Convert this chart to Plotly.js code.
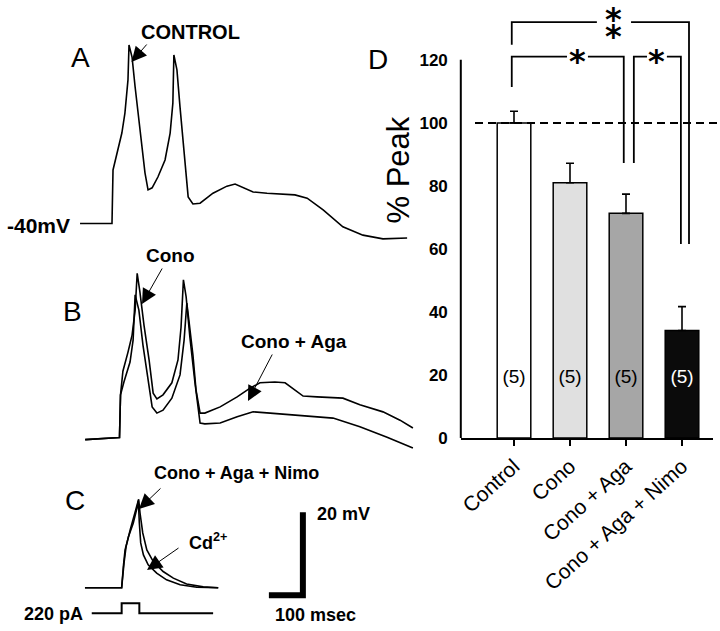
<!DOCTYPE html>
<html><head><meta charset="utf-8">
<script src="https://cdn.plot.ly/plotly-3.0.1.min.js"></script>
<style>html,body{margin:0;padding:0;background:#fff}#chart{width:720px;height:631px}</style>
</head><body><div id="chart"></div>
<script>
// ================= DATA =================
// Panel D: % of peak
const categories = ['Control', 'Cono', 'Cono + Aga', 'Cono + Aga + Nimo'];
const peakPct = [100, 81.0, 71.3, 34.1];
const peakSEM = [3.7, 6.2, 6.1, 7.6];
const nCells = ['(5)', '(5)', '(5)', '(5)'];
const yTicks = [0, 20, 40, 60, 80, 100, 120];
const comparisons = [[0, 3, '**'], [0, 2, '*'], [2, 3, '*']];

// Panel A: CONTROL (time ms from step onset, membrane potential mV)
const tA = [-94, 0, 3, 15, 29, 38, 47, 50, 59, 68, 82, 97, 106, 118, 135, 156, 171, 179, 182, 191, 200, 215, 224, 238, 259, 297, 338, 362, 385, 415, 456, 494, 538, 574, 621, 679, 738, 797, 868];
const vA = [-40, -40, -27.1, -23.0, -18.2, -13.4, -5.4, 3.0, 0.1, -7.1, -16.7, -27.8, -31.9, -31.4, -28.8, -24.7, -18.2, -11.0, 0.6, -3.0, -11.9, -25.4, -33.6, -35.3, -35.1, -32.7, -31.0, -30.5, -31.4, -32.4, -32.7, -32.9, -33.1, -33.9, -36.7, -40.8, -42.8, -43.7, -43.5];

// Panel B: Cono
const tBcono = [-101, 0, 3, 10, 25, 37, 46, 52, 60, 72, 87, 99, 110, 128, 154, 172, 181, 188, 196, 207, 222, 237, 251, 296, 346, 393, 443, 531, 628, 707, 787, 863];
const vBcono = [-40.4, -39.9, -29.6, -23.9, -19.3, -15.2, -9.2, -0.3, -4.8, -12.8, -21.2, -29.2, -30.6, -29.6, -26.7, -21.2, -13.3, -1.9, -6.0, -15.7, -26.7, -36.4, -36.6, -36.4, -34.9, -33.7, -34.0, -34.5, -35.2, -37.3, -39.8, -42.4];
// Panel B: Cono + Aga
const tBaga = [-101, 0, 3, 13, 31, 40, 46, 57, 69, 84, 96, 110, 128, 154, 178, 190, 198, 204, 216, 225, 237, 251, 296, 346, 384, 413, 457, 487, 510, 540, 581, 657, 707, 775, 825, 863];
const vBaga = [-40.4, -39.9, -29.6, -26.5, -21.7, -16.4, -5.5, -9.2, -17.6, -26.0, -32.5, -34.0, -33.3, -30.4, -24.8, -16.4, -7.5, -11.6, -20.0, -28.4, -34.0, -34.0, -32.5, -30.1, -28.0, -26.7, -26.5, -26.7, -28.0, -29.9, -30.1, -30.4, -32.0, -33.7, -35.7, -37.6];

// Panel C: Cono + Aga + Nimo, and Cd2+
const tCnimo = [-109, -1, 4, 9, 19, 33, 45, 48, 51, 55, 63, 77, 102, 131, 171, 220, 283];
const vCnimo = [-40, -40, -34.9, -30.9, -27.7, -24.5, -20.5, -19.0, -24.4, -29.2, -32.1, -34.5, -36.5, -38.1, -39.3, -39.9, -40];
const tCcd = [-109, -1, 6, 12, 24, 38, 45, 49, 53, 61, 73, 92, 121, 151, 190, 239, 283];
const vCcd = [-40, -40, -34.0, -30.1, -26.1, -22.0, -19.7, -18.7, -22.0, -26.8, -30.9, -33.7, -36.1, -37.7, -39.1, -39.8, -40];
// Injected current step (pA)
const tI = [-89, -1, -1, 51, 51, 268];
const iI = [0, 0, 220, 220, 0, 0];
// Scale bar sizes
const scaleMs = 100, scaleMv = 20;

// ================= LAYOUT GEOMETRY =================
const W = 720, H = 631;
const PX_MS = 0.34, PX_MV = 4.15;
const FONT = 'Liberation Sans, Arial, sans-serif';
const P = x => x / W, Q = y => 1 - y / H;
function dom(ox, oy, xr, yr) {
  return {
    x: [P(ox + xr[0] * PX_MS), P(ox + xr[1] * PX_MS)],
    y: [Q(oy - (yr[0] + 40) * PX_MV), Q(oy - (yr[1] + 40) * PX_MV)]
  };
}
const rA = {x: [-100, 900], y: [-46, 6]}, dA = dom(112, 223.5, rA.x, rA.y);
const rB = {x: [-110, 880], y: [-44, 2]}, dB = dom(119.5, 438, rB.x, rB.y);
const rC = {x: [-110, 580], y: [-44, -16]}, dC = dom(122, 587.7, rC.x, rC.y);
const rI = [-150, 350], PX_PA = 10 / 220;
const dI = [Q(613.3 - rI[0] * PX_PA), Q(613.3 - rI[1] * PX_PA)];

const hidden = (domain, range, anchor) => ({domain, range, anchor, visible: false, showgrid: false, zeroline: false, fixedrange: true});

const lineStyle = {color: '#000', width: 1.6};
const traces = [];
traces.push({type: 'scatter', mode: 'lines', x: tA, y: vA, xaxis: 'x2', yaxis: 'y2', line: lineStyle, hoverinfo: 'skip'});
traces.push({type: 'scatter', mode: 'lines', x: tBcono, y: vBcono, xaxis: 'x3', yaxis: 'y3', line: lineStyle, hoverinfo: 'skip'});
traces.push({type: 'scatter', mode: 'lines', x: tBaga, y: vBaga, xaxis: 'x3', yaxis: 'y3', line: lineStyle, hoverinfo: 'skip'});
traces.push({type: 'scatter', mode: 'lines', x: tCnimo, y: vCnimo, xaxis: 'x4', yaxis: 'y4', line: lineStyle, hoverinfo: 'skip'});
traces.push({type: 'scatter', mode: 'lines', x: tCcd, y: vCcd, xaxis: 'x4', yaxis: 'y4', line: lineStyle, hoverinfo: 'skip'});
traces.push({type: 'scatter', mode: 'lines', x: tI, y: iI, xaxis: 'x4', yaxis: 'y5', line: {color: '#000', width: 2}, hoverinfo: 'skip'});
// scale bar (corner placed in panel C coordinates)
const sbT = 532, sbV = -41.8;
traces.push({type: 'scatter', mode: 'lines', x: [sbT - scaleMs, sbT, sbT], y: [sbV, sbV, sbV + scaleMv], xaxis: 'x4', yaxis: 'y4', line: {color: '#000', width: 6}, hoverinfo: 'skip'});

// Panel D bars (category index positions on a linear axis)
const catIdx = categories.map((_, i) => i);
traces.push({
  type: 'bar', x: catIdx, y: peakPct, width: 0.6, xaxis: 'x', yaxis: 'y',
  marker: {color: ['#ffffff', '#e0e0e0', '#a6a6a6', '#0b0b0b'], line: {color: '#000', width: 1.5}},
  error_y: {type: 'data', symmetric: false, array: peakSEM, arrayminus: peakSEM.map(() => 0), color: '#000', thickness: 1.6, width: 4},
  hoverinfo: 'skip'
});
traces.push({
  type: 'scatter', mode: 'text', x: catIdx, y: catIdx.map(() => 19), text: nCells,
  textfont: {family: FONT, size: 19, color: ['#000', '#000', '#000', '#fff']}, cliponaxis: false, hoverinfo: 'skip'
});

// significance brackets geometry (category units / % units)
const bracketGeom = [
  {xl: -0.04, xr: 3.125, top: 132, yl: 124.8, yr: 61.6, gap: [1.48, 2.09]},
  {xl: -0.04, xr: 1.96, top: 121, yl: 111.4, yr: 87.3, gap: [0.946, 1.32]},
  {xl: 2.14, xr: 2.98, top: 121, yl: 87.3, yr: 61.6, gap: [2.375, 2.73]}
];
const ann = [];
const starFont = {family: 'DejaVu Sans', size: 32, color: '#000', weight: 'bold'};
comparisons.forEach((c, i) => {
  const g = bracketGeom[i];
  traces.push({type: 'scatter', mode: 'lines', xaxis: 'x', yaxis: 'y',
    x: [g.xl, g.xl, g.gap[0], null, g.gap[1], g.xr, g.xr],
    y: [g.yl, g.top, g.top, null, g.top, g.top, g.yr],
    line: {color: '#000', width: 1.8}, connectgaps: false, hoverinfo: 'skip'});
  const stars = c[2].split('');
  const sx = (g.gap[0] + g.gap[1]) / 2;
  if (stars.length === 1) {
    ann.push({xref: 'x', yref: 'y', x: sx, y: g.top, yshift: -4, text: '*', showarrow: false,
      font: starFont, xanchor: 'center', yanchor: 'middle'});
  } else {
    ann.push({xref: 'x', yref: 'paper', x: sx, y: 1, text: '*', showarrow: false,
      font: starFont, xanchor: 'center', yanchor: 'top', yshift: 2});
    ann.push({xref: 'x', yref: 'y', x: sx, y: g.top, yshift: -14, text: '*', showarrow: false,
      font: starFont, xanchor: 'center', yanchor: 'middle'});
  }
});

function txt(text, x, y, size, xa) {
  ann.push({xref: 'paper', yref: 'paper', x: P(x), y: Q(y), text, showarrow: false,
    font: {family: FONT, size, color: '#000'}, xanchor: xa || 'center', yanchor: 'middle'});
}
function arrow(tipX, tipY, tailX, tailY) {
  ann.push({xref: 'paper', yref: 'paper', x: P(tipX), y: Q(tipY), ax: tailX - tipX, ay: tailY - tipY,
    text: '', showarrow: true, arrowhead: 2, arrowsize: 3, arrowwidth: 1, arrowcolor: '#000', standoff: 0});
}
txt('A', 80.5, 57.5, 28);
txt('B', 72.5, 311, 28);
txt('C', 75, 500, 28);
txt('D', 378, 60, 28);
txt('<b>CONTROL</b>', 190, 31.5, 20);
txt('<b>-40mV</b>', 5, 225, 21, 'left');
txt('<b>Cono</b>', 170.5, 255, 19);
txt('<b>Cono + Aga</b>', 293.5, 341.5, 19);
txt('<b>Cono + Aga + Nimo</b>', 236.5, 472.5, 18);
txt('<b>Cd<sup>2+</sup></b>', 187, 541, 18, 'left');
txt('<b>20 mV</b>', 315, 513.5, 18, 'left');
txt('<b>100 msec</b>', 273, 614.5, 18, 'left');
txt('<b>220 pA</b>', 22, 613.5, 18, 'left');
ann.push({xref: 'paper', yref: 'paper', x: P(397.5), y: Q(170), text: '% Peak', textangle: -90, showarrow: false,
  font: {family: FONT, size: 31, color: '#000'}, xanchor: 'center', yanchor: 'middle'});
arrow(131.5, 62, 148, 43);
arrow(142, 304, 163, 267);
arrow(248, 401, 273, 353);
arrow(139, 509, 162, 487);
arrow(147, 570, 180, 547);

const layout = {
  width: W, height: H, margin: {l: 0, r: 0, t: 0, b: 0}, showlegend: false,
  paper_bgcolor: '#fff', plot_bgcolor: 'rgba(0,0,0,0)',
  font: {family: FONT, color: '#000'},
  xaxis: {domain: [P(460.8), P(712.8)], range: [-0.95, 3.55], anchor: 'y', type: 'linear',
    tickvals: catIdx, ticktext: categories,
    showline: true, linewidth: 2, linecolor: '#000', ticks: 'outside', ticklen: 6, tickwidth: 1.5, tickcolor: '#000',
    tickangle: -42, tickfont: {family: FONT, size: 21, color: '#000'}, showgrid: false, zeroline: false, fixedrange: true},
  yaxis: {domain: [Q(438), 1], range: [0, 139], anchor: 'x', tickvals: yTicks, ticktext: yTicks.map(String),
    showline: false, ticks: '', showgrid: false, zeroline: false, ticklabelstandoff: 12,
    tickfont: {family: FONT, size: 17, color: '#000', weight: 'bold'}, fixedrange: true},
  xaxis2: hidden(dA.x, rA.x, 'y2'), yaxis2: hidden(dA.y, rA.y, 'x2'),
  xaxis3: hidden(dB.x, rB.x, 'y3'), yaxis3: hidden(dB.y, rB.y, 'x3'),
  xaxis4: hidden(dC.x, rC.x, 'y4'), yaxis4: hidden(dC.y, rC.y, 'x4'),
  yaxis5: hidden(dI, rI, 'x4'),
  shapes: [
    {type: 'line', xref: 'x domain', yref: 'y', x0: 0, x1: 0, y0: 0, y1: 120, line: {color: '#000', width: 2}},
    {type: 'line', xref: 'paper', yref: 'y', x0: P(475), x1: 1, y0: 100, y1: 100, line: {color: '#000', width: 2, dash: '8px,5px'}}
  ],
  annotations: ann
};
Plotly.newPlot('chart', traces, layout, {staticPlot: true, displayModeBar: false});
</script>
</body></html>
